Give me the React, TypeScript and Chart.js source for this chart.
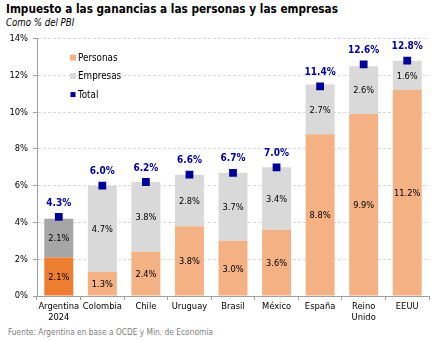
import React, { useEffect, useRef } from "react";
import { Chart, registerables } from "chart.js";
Chart.register(...registerables);

const title = "Impuesto a las ganancias a las personas y las empresas";
const subtitle = "Como % del PBI";
const source = "Fuente: Argentina en base a OCDE y Min. de Economía";
const categories: (string | string[])[] = [["Argentina", "2024"], "Colombia", "Chile", "Uruguay", "Brasil", "México", "España", ["Reino", "Unido"], "EEUU"];
const personas = [2.1, 1.3, 2.4, 3.8, 3.0, 3.6, 8.8, 9.9, 11.2];
const empresas = [2.1, 4.7, 3.8, 2.8, 3.7, 3.4, 2.7, 2.6, 1.6];
const total = [4.3, 6.0, 6.2, 6.6, 6.7, 7.0, 11.4, 12.6, 12.8];
const seriesNames = ["Personas", "Empresas", "Total"];

const FONT = "'DejaVu Sans Condensed', 'DejaVu Sans', sans-serif";
const PEACH = "#F4B183";
const ORANGE = "#ED7D31";
const LGRAY = "#D9D9D9";
const DGRAY = "#A6A6A6";
const NAVY = "#000099";

const fmt = (v: number) => v.toFixed(1) + "%";

const labelPlugin = {
  id: "customLabels",
  afterDatasetsDraw(chart: any) {
    const ctx = chart.ctx;
    ctx.save();
    ctx.textAlign = "center";
    ctx.textBaseline = "middle";
    [0, 1].forEach((di) => {
      const meta = chart.getDatasetMeta(di);
      meta.data.forEach((el: any, i: number) => {
        const v = chart.data.datasets[di].data[i];
        const p = el.getProps(["x", "y", "base"], true);
        ctx.font = "9.2px " + FONT;
        ctx.fillStyle = "#000";
        ctx.fillText(fmt(v), p.x, (p.y + p.base) / 2 + 1);
      });
    });
    const tm = chart.getDatasetMeta(2);
    tm.data.forEach((el: any, i: number) => {
      ctx.font = "bold 10px " + FONT;
      ctx.fillStyle = NAVY;
      ctx.fillText(fmt(total[i]), el.x, el.y - 14);
    });
    // legend
    const ca = chart.chartArea;
    const lx = ca.left + 33;
    const ly = ca.top + 19;
    const colors = [PEACH, LGRAY, NAVY];
    seriesNames.forEach((n, k) => {
      const yy = ly + k * 18.5;
      ctx.fillStyle = colors[k];
      if (k < 2) ctx.fillRect(lx, yy - 3, 6, 6);
      else ctx.fillRect(lx + 0.5, yy - 2.5, 5, 5);
      ctx.fillStyle = "#000";
      ctx.textAlign = "left";
      ctx.font = "9.8px " + FONT;
      ctx.fillText(n, lx + 8, yy + 0.5);
    });
    ctx.restore();
  },
};

export default function App() {
  const ref = useRef<HTMLCanvasElement>(null);
  useEffect(() => {
    if (!ref.current) return;
    const chart = new Chart(ref.current, {
      type: "bar",
      data: {
        labels: categories as any,
        datasets: [
          {
            type: "bar",
            label: seriesNames[0],
            data: personas,
            backgroundColor: personas.map((_, i) => (i === 0 ? ORANGE : PEACH)),
            stack: "a",
            order: 1,
            barPercentage: 0.665,
            categoryPercentage: 1,
          },
          {
            type: "bar",
            label: seriesNames[1],
            data: empresas,
            backgroundColor: empresas.map((_, i) => (i === 0 ? DGRAY : LGRAY)),
            stack: "a",
            order: 1,
            barPercentage: 0.665,
            categoryPercentage: 1,
          },
          {
            type: "line",
            label: seriesNames[2],
            data: total,
            showLine: false,
            pointStyle: "rect",
            pointRadius: 5.5,
            pointBackgroundColor: NAVY,
            pointBorderColor: NAVY,
            pointBorderWidth: 0,
            stack: "t",
            order: 0,
          } as any,
        ],
      },
      options: {
        animation: false,
        responsive: false,
        maintainAspectRatio: false,
        layout: { padding: { top: 10, right: 14, left: 0, bottom: 0 } },
        plugins: { legend: { display: false }, tooltip: { enabled: false } },
        scales: {
          x: {
            stacked: true,
            grid: { display: true, drawOnChartArea: false, drawTicks: true, tickLength: 4, color: "#A0A0A0", offset: true },
            border: { display: true, color: "#A0A0A0" },
            ticks: { color: "#000", font: { family: FONT, size: 9.3 }, padding: 1, maxRotation: 0, autoSkip: false },
            afterFit: (s: any) => { s.height = 30; },
          },
          y: {
            stacked: true,
            min: 0,
            max: 14,
            grid: { color: "#D9D9D9", tickColor: "#A0A0A0", tickLength: 4, tickBorderDash: [] as any, drawTicks: true },
            border: { display: true, color: "#A0A0A0", dash: [3, 2] },
            ticks: { stepSize: 2, color: "#000", font: { family: FONT, size: 9.3 }, padding: 5, callback: (v: any) => v + "%" },
            afterFit: (s: any) => { s.width = 37; },
          },
        },
      },
      plugins: [labelPlugin],
    });
    return () => chart.destroy();
  }, []);
  return (
    <div style={{ position: "fixed", left: 0, top: 0, width: 443, height: 340, background: "#fff", overflow: "hidden" }}>
      <div style={{ position: "absolute", left: 6, top: 2, fontFamily: FONT, fontWeight: "bold", fontSize: 11.7, color: "#000", whiteSpace: "nowrap" }}>{title}</div>
      <div style={{ position: "absolute", left: 6, top: 17, fontFamily: FONT, fontStyle: "italic", fontSize: 9.6, color: "#000", whiteSpace: "nowrap" }}>{subtitle}</div>
      <canvas ref={ref} width={443} height={298} style={{ position: "absolute", left: 0, top: 28, width: 443, height: 298 }} />
      <div style={{ position: "absolute", left: 8, top: 327, fontFamily: FONT, fontSize: 8.3, color: "#808080", whiteSpace: "nowrap" }}>{source}</div>
    </div>
  );
}
